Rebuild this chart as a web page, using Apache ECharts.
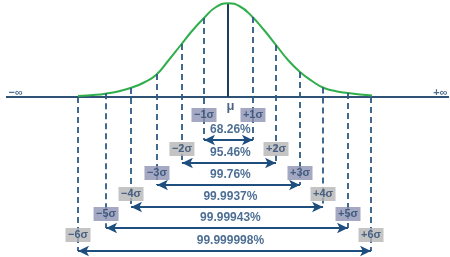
<!DOCTYPE html>
<html><head><meta charset="utf-8">
<script src="https://cdn.jsdelivr.net/npm/echarts@6/dist/echarts.min.js"></script>
<style>html,body{margin:0;padding:0;background:#fff}#c{width:450px;height:257px}</style>
</head><body><div id="c"></div>
<script>
// Curve (x in sigma units, height in px above baseline)
const curveX = [-6.25,-5.5,-5,-4.5,-4,-3.5,-3,-2.5,-2,-1.5,-1,-0.5,0,0.5,1,1.5,2,2.5,3,3.5,4,4.5,5,5.5,6];
const curveY = [1,2.2,3.8,6,9.5,14.5,22,36,51,66,79,90,93.7,90.5,80.5,67,52,37,25,16,9,5.7,4,2.5,1.5];
const peakHeight = 93.7;
// sigma lines
const leftLabels = ['\u22121\u03c3','\u22122\u03c3','\u22123\u03c3','\u22124\u03c3','\u22125\u03c3','\u22126\u03c3'];
const rightLabels = ['+1\u03c3','+2\u03c3','+3\u03c3','+4\u03c3','+5\u03c3','+6\u03c3'];
const leftPos = [-1,-1.92,-2.96,-4.04,-5.08,-6.25];
const rightPos = [1.04,2,3,3.96,5,5.96];
const leftTop = [79,53,23,9,3.7,0];
const rightTop = [80,52,25,9.5,4,0];
const percentLabels = ['68.26%','95.46%','99.76%','99.9937%','99.99943%','99.999998%'];
const arrowY = [-43,-66,-88,-110,-131,-154];
const boxY = [-18,-52,-76,-97,-117,-138];
const boxColors = ['#8e92b3','#b5b5b5','#8e92b3','#b5b5b5','#8e92b3','#b5b5b5'];
const axisEnds = [-9.25, 9.21];

const chart = echarts.init(document.getElementById('c'));
const dashData = [];
for (let i = 0; i < 6; i++) {
  dashData.push([{coord:[leftPos[i], leftTop[i]]},{coord:[leftPos[i], arrowY[i]]}]);
  dashData.push([{coord:[rightPos[i], rightTop[i]]},{coord:[rightPos[i], arrowY[i]]}]);
}
const arrowData = arrowY.map((y,i)=>[{coord:[leftPos[i], y]},{coord:[rightPos[i], y]}]);
const boxData = [];
for (let i = 0; i < 6; i++) {
  boxData.push({value:[leftPos[i], boxY[i]], name:leftLabels[i], itemStyle:{color:boxColors[i]}});
  boxData.push({value:[rightPos[i], boxY[i]], name:rightLabels[i], itemStyle:{color:boxColors[i]}});
}
const pctData = percentLabels.map((t,i)=>({value:[0.1, arrowY[i]+10], name:t}));

chart.setOption({
  animation:false,
  grid:{left:0,right:0,top:0,bottom:0},
  xAxis:{type:'value',min:-9.5,max:9.25,show:false},
  yAxis:{type:'value',min:-160,max:97,show:false},
  series:[
    {type:'line',data:[[axisEnds[0],0],[axisEnds[1],0]],showSymbol:false,lineStyle:{color:'#2e5377',width:2},z:2,
     markLine:{silent:true,symbol:['none','none'],label:{show:false},lineStyle:{color:'#2c5a86',width:1.8,type:[6,4]},data:dashData}},
    {type:'line',data:[[0,0],[0,peakHeight]],showSymbol:false,lineStyle:{color:'#1d3e63',width:2},z:3},
    {type:'line',data:curveX.map((x,i)=>[x,curveY[i]]),smooth:true,showSymbol:false,lineStyle:{color:'#2fae4a',width:2},z:4},
    {type:'line',data:[],z:5,
     markLine:{silent:true,symbol:['arrow','arrow'],symbolSize:[8,11],label:{show:false},lineStyle:{color:'#1d4e7d',width:2,type:'solid'},data:arrowData}},
    {type:'scatter',data:boxData,symbol:'rect',symbolSize:[25,14],z:6,
     label:{show:true,position:'inside',formatter:p=>p.name,color:'#2b4a70',fontFamily:'Liberation Sans, Arial',fontSize:11,fontWeight:'bold'}},
    {type:'scatter',data:pctData,symbolSize:1,itemStyle:{color:'transparent'},z:7,
     label:{show:true,position:'inside',formatter:p=>p.name,color:'#1f4a78',fontFamily:'Liberation Sans, Arial',fontSize:12,fontWeight:'bold'}},
    {type:'scatter',data:[{value:[0.1,-9],name:'\u03bc'}],symbolSize:1,itemStyle:{color:'transparent'},z:7,
     label:{show:true,position:'inside',formatter:p=>p.name,color:'#1f3f66',fontFamily:'Liberation Sans, Arial',fontSize:13,fontWeight:'bold'}},
    {type:'scatter',data:[{value:[-8.85,4],name:'\u2212\u221e'},{value:[8.85,4],name:'+\u221e'}],symbolSize:1,itemStyle:{color:'transparent'},z:7,
     label:{show:true,position:'inside',formatter:p=>p.name,color:'#234a73',fontFamily:'Liberation Sans, Arial',fontSize:11,fontWeight:'bold'}}
  ]
});
</script></body></html>
